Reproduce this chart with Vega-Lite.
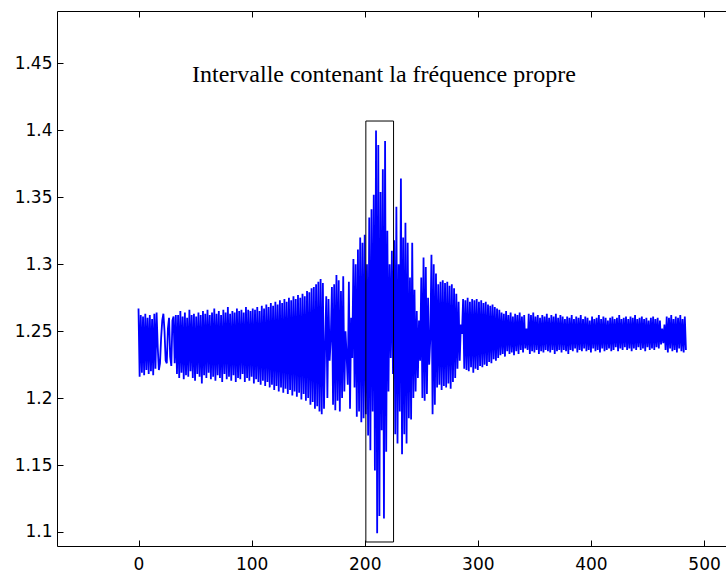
{
"$schema": "https://vega.github.io/schema/vega-lite/v6.json",
"width": 670, "height": 535,
"autosize": {"type": "none"},
"padding": {"left": 57, "top": 11, "right": 0, "bottom": 32},
"background": "white",
"config": {"view": {"stroke": null}, "axis": {"grid": false, "domainColor": "black", "tickColor": "black", "labelColor": "black", "labelFont": "DejaVu Sans", "labelFontSize": 17, "tickSize": -6, "domainWidth": 1, "tickWidth": 1, "title": null}},
"datasets": {
"signal": [
{"x":0,"y":1.267},{"x":1,"y":1.216},{"x":2,"y":1.262},{"x":3,"y":1.219},{"x":4,"y":1.261},{"x":5,"y":1.217},{"x":6,"y":1.263},{"x":7,"y":1.221},{"x":8,"y":1.260},{"x":9,"y":1.218},
{"x":10,"y":1.262},{"x":11,"y":1.220},{"x":12,"y":1.259},{"x":13,"y":1.217},{"x":14,"y":1.263},{"x":15,"y":1.222},{"x":16,"y":1.264},{"x":17,"y":1.238},{"x":18,"y":1.221},{"x":19,"y":1.226},
{"x":20,"y":1.245},{"x":21,"y":1.258},{"x":22,"y":1.263},{"x":23,"y":1.250},{"x":24,"y":1.228},{"x":25,"y":1.226},{"x":26,"y":1.252},{"x":27,"y":1.260},{"x":28,"y":1.231},{"x":29,"y":1.224},
{"x":30,"y":1.258},{"x":31,"y":1.261},{"x":32,"y":1.226},{"x":33,"y":1.262},{"x":34,"y":1.218},{"x":35,"y":1.262},{"x":36,"y":1.215},{"x":37,"y":1.265},{"x":38,"y":1.219},{"x":39,"y":1.261},
{"x":40,"y":1.214},{"x":41,"y":1.264},{"x":42,"y":1.217},{"x":43,"y":1.260},{"x":44,"y":1.216},{"x":45,"y":1.266},{"x":46,"y":1.220},{"x":47,"y":1.262},{"x":48,"y":1.215},{"x":49,"y":1.263},
{"x":50,"y":1.213},{"x":51,"y":1.261},{"x":52,"y":1.218},{"x":53,"y":1.264},{"x":54,"y":1.216},{"x":55,"y":1.262},{"x":56,"y":1.211},{"x":57,"y":1.265},{"x":58,"y":1.217},{"x":59,"y":1.263},
{"x":60,"y":1.215},{"x":61,"y":1.266},{"x":62,"y":1.219},{"x":63,"y":1.262},{"x":64,"y":1.214},{"x":65,"y":1.264},{"x":66,"y":1.216},{"x":67,"y":1.267},{"x":68,"y":1.213},{"x":69,"y":1.263},
{"x":70,"y":1.217},{"x":71,"y":1.265},{"x":72,"y":1.215},{"x":73,"y":1.262},{"x":74,"y":1.212},{"x":75,"y":1.266},{"x":76,"y":1.218},{"x":77,"y":1.264},{"x":78,"y":1.214},{"x":79,"y":1.268},
{"x":80,"y":1.216},{"x":81,"y":1.263},{"x":82,"y":1.213},{"x":83,"y":1.265},{"x":84,"y":1.217},{"x":85,"y":1.264},{"x":86,"y":1.212},{"x":87,"y":1.267},{"x":88,"y":1.215},{"x":89,"y":1.265},
{"x":90,"y":1.214},{"x":91,"y":1.266},{"x":92,"y":1.218},{"x":93,"y":1.264},{"x":94,"y":1.212},{"x":95,"y":1.268},{"x":96,"y":1.215},{"x":97,"y":1.266},{"x":98,"y":1.213},{"x":99,"y":1.265},
{"x":100,"y":1.216},{"x":101,"y":1.267},{"x":102,"y":1.211},{"x":103,"y":1.266},{"x":104,"y":1.214},{"x":105,"y":1.268},{"x":106,"y":1.212},{"x":107,"y":1.265},{"x":108,"y":1.210},{"x":109,"y":1.269},
{"x":110,"y":1.213},{"x":111,"y":1.267},{"x":112,"y":1.209},{"x":113,"y":1.270},{"x":114,"y":1.212},{"x":115,"y":1.268},{"x":116,"y":1.208},{"x":117,"y":1.271},{"x":118,"y":1.210},{"x":119,"y":1.269},
{"x":120,"y":1.206},{"x":121,"y":1.272},{"x":122,"y":1.209},{"x":123,"y":1.270},{"x":124,"y":1.205},{"x":125,"y":1.273},{"x":126,"y":1.208},{"x":127,"y":1.271},{"x":128,"y":1.204},{"x":129,"y":1.274},
{"x":130,"y":1.207},{"x":131,"y":1.272},{"x":132,"y":1.203},{"x":133,"y":1.275},{"x":134,"y":1.206},{"x":135,"y":1.273},{"x":136,"y":1.202},{"x":137,"y":1.276},{"x":138,"y":1.205},{"x":139,"y":1.274},
{"x":140,"y":1.201},{"x":141,"y":1.277},{"x":142,"y":1.204},{"x":143,"y":1.275},{"x":144,"y":1.199},{"x":145,"y":1.278},{"x":146,"y":1.203},{"x":147,"y":1.276},{"x":148,"y":1.198},{"x":149,"y":1.280},
{"x":150,"y":1.200},{"x":151,"y":1.279},{"x":152,"y":1.195},{"x":153,"y":1.282},{"x":154,"y":1.197},{"x":155,"y":1.283},{"x":156,"y":1.192},{"x":157,"y":1.285},{"x":158,"y":1.194},{"x":159,"y":1.287},
{"x":160,"y":1.190},{"x":161,"y":1.289},{"x":162,"y":1.188},{"x":163,"y":1.286},{"x":164,"y":1.192},{"x":165,"y":1.240},{"x":166,"y":1.276},{"x":167,"y":1.200},{"x":168,"y":1.274},{"x":169,"y":1.228},
{"x":170,"y":1.245},{"x":171,"y":1.283},{"x":172,"y":1.195},{"x":173,"y":1.285},{"x":174,"y":1.191},{"x":175,"y":1.292},{"x":176,"y":1.198},{"x":177,"y":1.288},{"x":178,"y":1.190},{"x":179,"y":1.280},
{"x":180,"y":1.200},{"x":181,"y":1.291},{"x":182,"y":1.205},{"x":183,"y":1.250},{"x":184,"y":1.232},{"x":185,"y":1.210},{"x":186,"y":1.287},{"x":187,"y":1.192},{"x":188,"y":1.260},{"x":189,"y":1.230},
{"x":190,"y":1.304},{"x":191,"y":1.208},{"x":192,"y":1.300},{"x":193,"y":1.186},{"x":194,"y":1.311},{"x":195,"y":1.190},{"x":196,"y":1.320},{"x":197,"y":1.182},{"x":198,"y":1.316},{"x":199,"y":1.185},
{"x":200,"y":1.322},{"x":201,"y":1.188},{"x":202,"y":1.300},{"x":203,"y":1.172},{"x":204,"y":1.335},{"x":205,"y":1.161},{"x":206,"y":1.341},{"x":207,"y":1.190},{"x":208,"y":1.352},{"x":209,"y":1.146},
{"x":210,"y":1.400},{"x":211,"y":1.099},{"x":212,"y":1.389},{"x":213,"y":1.112},{"x":214,"y":1.354},{"x":215,"y":1.176},{"x":216,"y":1.371},{"x":217,"y":1.110},{"x":218,"y":1.392},{"x":219,"y":1.160},
{"x":220,"y":1.325},{"x":221,"y":1.205},{"x":222,"y":1.300},{"x":223,"y":1.230},{"x":224,"y":1.310},{"x":225,"y":1.218},{"x":226,"y":1.318},{"x":227,"y":1.173},{"x":228,"y":1.343},{"x":229,"y":1.166},
{"x":230,"y":1.300},{"x":231,"y":1.190},{"x":232,"y":1.364},{"x":233,"y":1.158},{"x":234,"y":1.320},{"x":235,"y":1.173},{"x":236,"y":1.331},{"x":237,"y":1.166},{"x":238,"y":1.316},{"x":239,"y":1.185},
{"x":240,"y":1.290},{"x":241,"y":1.184},{"x":242,"y":1.316},{"x":243,"y":1.200},{"x":244,"y":1.281},{"x":245,"y":1.205},{"x":246,"y":1.265},{"x":247,"y":1.215},{"x":248,"y":1.258},{"x":249,"y":1.228},
{"x":250,"y":1.290},{"x":251,"y":1.200},{"x":252,"y":1.305},{"x":253,"y":1.198},{"x":254,"y":1.298},{"x":255,"y":1.203},{"x":256,"y":1.275},{"x":257,"y":1.225},{"x":258,"y":1.245},{"x":259,"y":1.307},
{"x":260,"y":1.188},{"x":261,"y":1.300},{"x":262,"y":1.195},{"x":263,"y":1.293},{"x":264,"y":1.208},{"x":265,"y":1.285},{"x":266,"y":1.210},{"x":267,"y":1.287},{"x":268,"y":1.206},{"x":269,"y":1.288},
{"x":270,"y":1.209},{"x":271,"y":1.286},{"x":272,"y":1.208},{"x":273,"y":1.287},{"x":274,"y":1.211},{"x":275,"y":1.284},{"x":276,"y":1.207},{"x":277,"y":1.285},{"x":278,"y":1.212},{"x":279,"y":1.282},
{"x":280,"y":1.215},{"x":281,"y":1.278},{"x":282,"y":1.222},{"x":283,"y":1.272},{"x":284,"y":1.228},{"x":285,"y":1.255},{"x":286,"y":1.248},{"x":287,"y":1.274},{"x":288,"y":1.222},{"x":289,"y":1.273},
{"x":290,"y":1.221},{"x":291,"y":1.275},{"x":292,"y":1.220},{"x":293,"y":1.272},{"x":294,"y":1.223},{"x":295,"y":1.274},{"x":296,"y":1.219},{"x":297,"y":1.273},{"x":298,"y":1.222},{"x":299,"y":1.274},
{"x":300,"y":1.221},{"x":301,"y":1.272},{"x":302,"y":1.224},{"x":303,"y":1.273},{"x":304,"y":1.223},{"x":305,"y":1.271},{"x":306,"y":1.225},{"x":307,"y":1.272},{"x":308,"y":1.224},{"x":309,"y":1.270},
{"x":310,"y":1.227},{"x":311,"y":1.269},{"x":312,"y":1.226},{"x":313,"y":1.270},{"x":314,"y":1.229},{"x":315,"y":1.268},{"x":316,"y":1.228},{"x":317,"y":1.267},{"x":318,"y":1.230},{"x":319,"y":1.266},
{"x":320,"y":1.232},{"x":321,"y":1.264},{"x":322,"y":1.233},{"x":323,"y":1.263},{"x":324,"y":1.231},{"x":325,"y":1.265},{"x":326,"y":1.235},{"x":327,"y":1.262},{"x":328,"y":1.233},{"x":329,"y":1.264},
{"x":330,"y":1.234},{"x":331,"y":1.261},{"x":332,"y":1.232},{"x":333,"y":1.263},{"x":334,"y":1.235},{"x":335,"y":1.262},{"x":336,"y":1.233},{"x":337,"y":1.264},{"x":338,"y":1.236},{"x":339,"y":1.261},
{"x":340,"y":1.234},{"x":341,"y":1.262},{"x":342,"y":1.237},{"x":343,"y":1.252},{"x":344,"y":1.236},{"x":345,"y":1.263},{"x":346,"y":1.233},{"x":347,"y":1.262},{"x":348,"y":1.235},{"x":349,"y":1.264},
{"x":350,"y":1.234},{"x":351,"y":1.261},{"x":352,"y":1.236},{"x":353,"y":1.262},{"x":354,"y":1.233},{"x":355,"y":1.260},{"x":356,"y":1.235},{"x":357,"y":1.262},{"x":358,"y":1.234},{"x":359,"y":1.261},
{"x":360,"y":1.236},{"x":361,"y":1.263},{"x":362,"y":1.235},{"x":363,"y":1.260},{"x":364,"y":1.234},{"x":365,"y":1.262},{"x":366,"y":1.236},{"x":367,"y":1.261},{"x":368,"y":1.233},{"x":369,"y":1.263},
{"x":370,"y":1.235},{"x":371,"y":1.260},{"x":372,"y":1.236},{"x":373,"y":1.262},{"x":374,"y":1.234},{"x":375,"y":1.261},{"x":376,"y":1.236},{"x":377,"y":1.259},{"x":378,"y":1.235},{"x":379,"y":1.261},
{"x":380,"y":1.233},{"x":381,"y":1.260},{"x":382,"y":1.236},{"x":383,"y":1.262},{"x":384,"y":1.235},{"x":385,"y":1.259},{"x":386,"y":1.237},{"x":387,"y":1.261},{"x":388,"y":1.234},{"x":389,"y":1.260},
{"x":390,"y":1.236},{"x":391,"y":1.262},{"x":392,"y":1.235},{"x":393,"y":1.259},{"x":394,"y":1.237},{"x":395,"y":1.261},{"x":396,"y":1.235},{"x":397,"y":1.260},{"x":398,"y":1.236},{"x":399,"y":1.258},
{"x":400,"y":1.234},{"x":401,"y":1.261},{"x":402,"y":1.237},{"x":403,"y":1.259},{"x":404,"y":1.235},{"x":405,"y":1.260},{"x":406,"y":1.236},{"x":407,"y":1.262},{"x":408,"y":1.234},{"x":409,"y":1.259},
{"x":410,"y":1.237},{"x":411,"y":1.261},{"x":412,"y":1.235},{"x":413,"y":1.260},{"x":414,"y":1.236},{"x":415,"y":1.258},{"x":416,"y":1.237},{"x":417,"y":1.260},{"x":418,"y":1.235},{"x":419,"y":1.261},
{"x":420,"y":1.236},{"x":421,"y":1.259},{"x":422,"y":1.238},{"x":423,"y":1.260},{"x":424,"y":1.235},{"x":425,"y":1.262},{"x":426,"y":1.237},{"x":427,"y":1.259},{"x":428,"y":1.236},{"x":429,"y":1.260},
{"x":430,"y":1.238},{"x":431,"y":1.261},{"x":432,"y":1.236},{"x":433,"y":1.259},{"x":434,"y":1.237},{"x":435,"y":1.261},{"x":436,"y":1.235},{"x":437,"y":1.260},{"x":438,"y":1.237},{"x":439,"y":1.262},
{"x":440,"y":1.236},{"x":441,"y":1.259},{"x":442,"y":1.238},{"x":443,"y":1.260},{"x":444,"y":1.236},{"x":445,"y":1.261},{"x":446,"y":1.237},{"x":447,"y":1.259},{"x":448,"y":1.235},{"x":449,"y":1.260},
{"x":450,"y":1.238},{"x":451,"y":1.258},{"x":452,"y":1.236},{"x":453,"y":1.260},{"x":454,"y":1.237},{"x":455,"y":1.261},{"x":456,"y":1.236},{"x":457,"y":1.259},{"x":458,"y":1.238},{"x":459,"y":1.260},
{"x":460,"y":1.237},{"x":461,"y":1.258},{"x":462,"y":1.240},{"x":463,"y":1.252},{"x":464,"y":1.241},{"x":465,"y":1.255},{"x":466,"y":1.236},{"x":467,"y":1.261},{"x":468,"y":1.234},{"x":469,"y":1.260},
{"x":470,"y":1.237},{"x":471,"y":1.262},{"x":472,"y":1.235},{"x":473,"y":1.259},{"x":474,"y":1.236},{"x":475,"y":1.261},{"x":476,"y":1.234},{"x":477,"y":1.260},{"x":478,"y":1.237},{"x":479,"y":1.262},
{"x":480,"y":1.235},{"x":481,"y":1.259},{"x":482,"y":1.234},{"x":483,"y":1.261},{"x":484,"y":1.236}
],
"box": [{"x1": 201, "x2": 225.5, "y1": 1.0925, "y2": 1.407}],
"label": [{"x": 47.3, "y": 1.4362, "text": "Intervalle contenant la fréquence propre"}]
},
"resolve": {"axis": {"x": "independent", "y": "independent"}},
"layer": [
{
"data": {"name": "signal"},
"mark": {"type": "line", "color": "#0000FF", "strokeWidth": 1.8, "clip": true},
"encoding": {
"x": {"field": "x", "type": "quantitative", "scale": {"domain": [-72.06, 520.3], "nice": false, "zero": false}, "axis": {"orient": "bottom", "values": [0, 100, 200, 300, 400, 500], "labelPadding": 16}},
"y": {"field": "y", "type": "quantitative", "scale": {"domain": [1.0895, 1.4892], "nice": false, "zero": false}, "axis": {"orient": "left", "values": [1.1, 1.15, 1.2, 1.25, 1.3, 1.35, 1.4, 1.45], "format": ".2~f", "labelPadding": 11}}
}
},
{
"data": {"name": "box"},
"mark": {"type": "rect", "fillOpacity": 0, "stroke": "black", "strokeWidth": 1},
"encoding": {
"x": {"field": "x1", "type": "quantitative", "axis": {"orient": "top", "values": [0, 100, 200, 300, 400, 500], "labels": false}},
"x2": {"field": "x2"},
"y": {"field": "y1", "type": "quantitative", "axis": null},
"y2": {"field": "y2"}
}
},
{
"data": {"name": "label"},
"mark": {"type": "text", "font": "Liberation Serif", "fontSize": 24, "align": "left", "baseline": "alphabetic", "color": "black"},
"encoding": {
"x": {"field": "x", "type": "quantitative", "axis": null},
"y": {"field": "y", "type": "quantitative", "axis": null},
"text": {"field": "text"}
}
}
]
}
